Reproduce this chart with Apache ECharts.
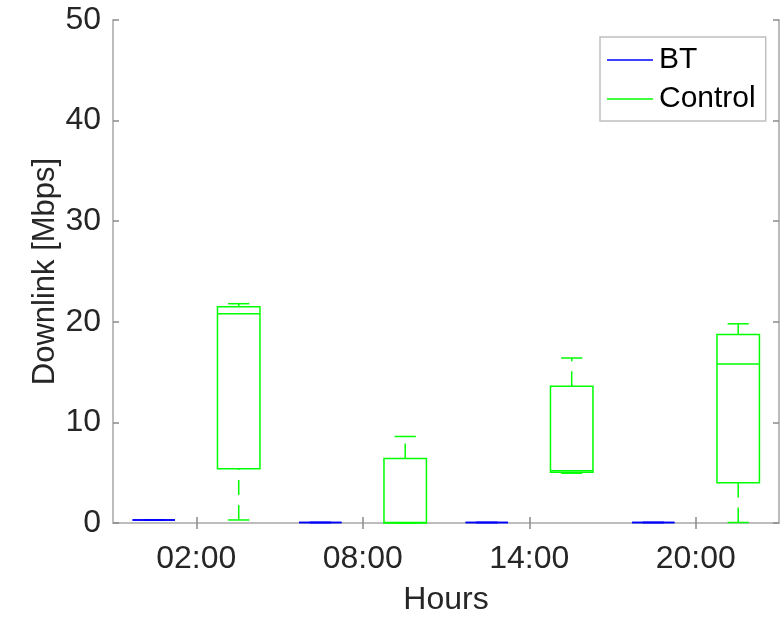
<!DOCTYPE html>
<html>
<head>
<meta charset="utf-8">
<script src="https://cdn.jsdelivr.net/npm/echarts@6/dist/echarts.min.js"></script>
<style>html,body{margin:0;padding:0;background:#fff}#chart{width:781px;height:617px}</style>
</head>
<body>
<div id="chart"></div>
<script>
// Data: [min, Q1, median, Q3, max] per hour
const categories = ['02:00', '08:00', '14:00', '20:00'];
const yTicks = [0, 10, 20, 30, 40, 50];
const btStats = [
  [0.3, 0.3, 0.3, 0.3, 0.3],
  [0.05, 0.05, 0.05, 0.05, 0.05],
  [0.05, 0.05, 0.05, 0.05, 0.05],
  [0.05, 0.05, 0.05, 0.05, 0.05]
];
const controlStats = [
  [0.3, 5.4, 20.8, 21.5, 21.8],
  [0.0, 0.0, 0.05, 6.4, 8.6],
  [4.95, 5.05, 5.2, 13.6, 16.4],
  [0.05, 4.0, 15.8, 18.75, 19.8]
];

const BOX_FRAC = 0.255;
const TEXT = '#262626';
const AXIS = '#bdbdbd';
const TICK = '#8a8a8a';

function makeRender(offset, color) {
  return function (params, api) {
    const idx = api.value(0);
    const base = api.coord([idx, 0]);
    const band = api.size([1, 0])[0];
    const cx = base[0] + offset * band;
    const hw = band * BOX_FRAC / 2;
    const y = i => api.coord([idx, api.value(i)])[1];
    const yMin = y(1), yQ1 = y(2), yMed = y(3), yQ3 = y(4), yMax = y(5);
    const solid = { stroke: color, lineWidth: 1.5, fill: null };
    const dashed = { stroke: color, lineWidth: 1.5, lineDash: [15, 10], fill: null };
    return {
      type: 'group',
      children: [
        { type: 'line', shape: { x1: cx, y1: yQ3, x2: cx, y2: yMax }, style: dashed },
        { type: 'line', shape: { x1: cx, y1: yMin, x2: cx, y2: yQ1 }, style: dashed },
        { type: 'line', shape: { x1: cx - hw / 2, y1: yMax, x2: cx + hw / 2, y2: yMax }, style: solid },
        { type: 'line', shape: { x1: cx - hw / 2, y1: yMin, x2: cx + hw / 2, y2: yMin }, style: solid },
        { type: 'rect', shape: { x: cx - hw, y: yQ3, width: 2 * hw, height: yQ1 - yQ3 }, style: { stroke: color, lineWidth: 1.5, fill: 'none' } },
        { type: 'line', shape: { x1: cx - hw, y1: yMed, x2: cx + hw, y2: yMed }, style: solid }
      ]
    };
  };
}

const chart = echarts.init(document.getElementById('chart'), null, { renderer: 'canvas' });
const catAxisCommon = {
  type: 'category',
  data: categories,
  boundaryGap: true,
  axisLine: { show: true, lineStyle: { color: AXIS, width: 2 } },
  axisTick: { show: true, inside: true, alignWithLabel: true, length: 6, lineStyle: { color: TICK, width: 1.5 } },
  splitLine: { show: false }
};
const valAxisCommon = {
  type: 'value',
  min: 0, max: 50, interval: 10,
  axisLine: { show: true, lineStyle: { color: AXIS, width: 2 } },
  axisTick: { show: true, inside: true, length: 6, lineStyle: { color: TICK, width: 1.5 } },
  splitLine: { show: false }
};

chart.setOption({
  animation: false,
  backgroundColor: '#fff',
  grid: { left: 113, right: 2, top: 20, bottom: 94, containLabel: false, outerBoundsMode: 'none' },
  legend: {
    orient: 'vertical',
    left: 600, top: 37,
    padding: [8, 10, 7, 7],
    itemGap: 9,
    itemWidth: 46, itemHeight: 1.5,
    icon: 'rect',
    borderColor: '#c0c0c0', borderWidth: 1.5,
    backgroundColor: '#fff',
    textStyle: { fontFamily: 'Liberation Sans', fontSize: 30, color: '#000', padding: [0, 0, 0, 1] },
    data: ['BT', 'Control']
  },
  xAxis: [
    Object.assign({}, catAxisCommon, {
      position: 'bottom',
      name: 'Hours', nameLocation: 'middle', nameGap: 61, nameMoveOverlap: false,
      nameTextStyle: { fontFamily: 'Liberation Sans', fontSize: 32, color: TEXT },
      axisLabel: { margin: 20, fontFamily: 'Liberation Sans', fontSize: 32, color: TEXT }
    }),
    Object.assign({}, catAxisCommon, { position: 'top', axisLabel: { show: false } })
  ],
  yAxis: [
    Object.assign({}, valAxisCommon, {
      position: 'left',
      name: 'Downlink [Mbps]', nameLocation: 'middle', nameGap: 52, nameMoveOverlap: false,
      nameTextStyle: { fontFamily: 'Liberation Sans', fontSize: 31, color: TEXT },
      axisLabel: {
        margin: 12, fontFamily: 'Liberation Sans', fontSize: 32, color: TEXT,
        formatter: v => (yTicks.indexOf(v) >= 0 ? String(v) : '')
      }
    }),
    Object.assign({}, valAxisCommon, { position: 'right', axisLabel: { show: false } })
  ],
  series: [
    {
      name: 'BT', type: 'custom', xAxisIndex: 0, yAxisIndex: 0,
      itemStyle: { color: '#0000ff' },
      renderItem: makeRender(-0.255, '#0000ff'),
      encode: { x: 0, y: [1, 2, 3, 4, 5] },
      data: btStats.map((s, i) => [i].concat(s)),
      clip: false
    },
    {
      name: 'Control', type: 'custom', xAxisIndex: 0, yAxisIndex: 0,
      itemStyle: { color: '#00ff00' },
      renderItem: makeRender(0.255, '#00ff00'),
      encode: { x: 0, y: [1, 2, 3, 4, 5] },
      data: controlStats.map((s, i) => [i].concat(s)),
      clip: false
    }
  ]
});
</script>
</body>
</html>
